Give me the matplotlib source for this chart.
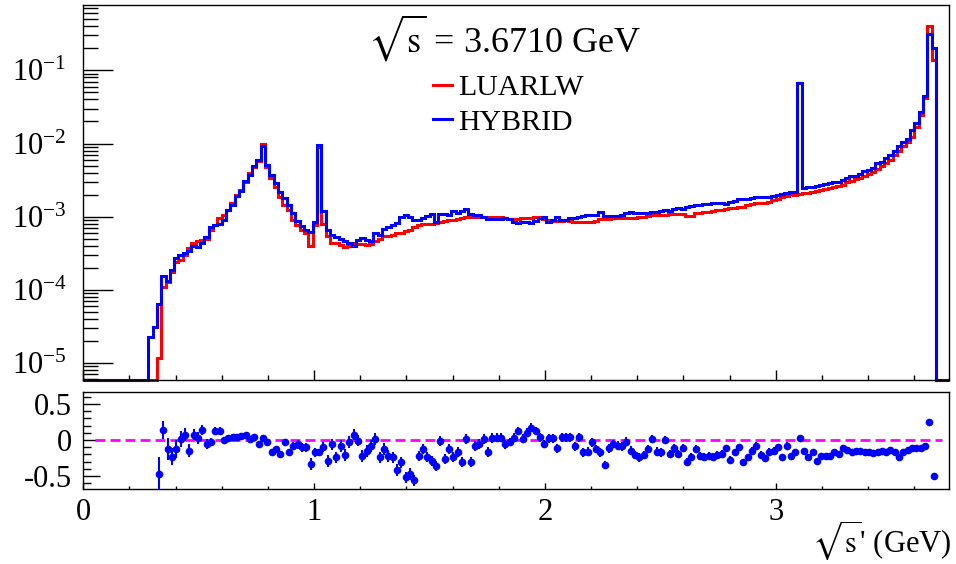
"""
sqrt(s') spectrum at sqrt(s) = 3.6710 GeV: LUARLW vs HYBRID, with a ratio panel underneath.
Values read off the original figure (200 bins, 0 - 3.75 GeV).
"""

import numpy as np
import matplotlib
matplotlib.use("Agg")
import matplotlib.pyplot as plt
import matplotlib.ticker as mticker
from matplotlib.lines import Line2D

plt.rcParams["font.family"] = ["Liberation Serif", "DejaVu Serif"]
plt.rcParams["mathtext.fontset"] = "stix"
plt.rcParams["axes.unicode_minus"] = False

N_BINS = 200
X_MAX = 3.75
Y_LO, Y_HI = 5.87e-6, 0.78
R_LO, R_HI = -0.68, 0.67
REF_LINE_X = (0.05, 3.72)

# HYBRID, bins 15..196 (others empty)
HYBRID_FIRST = 15
HYBRID_VALS = [
    2.3e-5, 3.1e-5, 6.5e-5, 1.55e-4, 1.33e-4, 1.87e-4, 2.75e-4, 3.0e-4, 3.16e-4, 3.4e-4,
    3.98e-4, 3.89e-4, 4.4e-4, 5.2e-4, 7.2e-4, 7.6e-4, 7.9e-4, 9.0e-4, 1.24e-3, 1.45e-3,
    1.9e-3, 2.26e-3, 3.1e-3, 3.7e-3, 4.9e-3, 6.0e-3, 9.3e-3, 5.1e-3, 3.7e-3, 2.85e-3,
    2.2e-3, 1.78e-3, 1.45e-3, 1.12e-3, 8.7e-4, 7.4e-4, 6.6e-4, 6.2e-4, 8.5e-4, 9.55e-3,
    1.18e-3, 6.6e-4, 5.6e-4, 5.2e-4, 4.9e-4, 4.7e-4, 4.4e-4, 4.0e-4, 4.8e-4, 5.1e-4,
    4.8e-4, 4.6e-4, 5.9e-4, 5.6e-4, 6.8e-4, 7.3e-4, 7.7e-4, 8.1e-4, 1.0e-3, 1.05e-3,
    9.8e-4, 9.0e-4, 9.0e-4, 9.5e-4, 1.02e-3, 1.09e-3, 8.5e-4, 1.09e-3, 1.09e-3, 1.05e-3,
    1.21e-3, 1.11e-3, 1.21e-3, 1.26e-3, 1.09e-3, 1.05e-3, 1.05e-3, 9.8e-4, 9.2e-4, 9.2e-4,
    9.2e-4, 9.2e-4, 9.5e-4, 9.2e-4, 8.5e-4, 8.1e-4, 8.5e-4, 8.5e-4, 8.1e-4, 8.8e-4,
    9.5e-4, 9.8e-4, 8.5e-4, 9.0e-4, 9.8e-4, 9.0e-4, 9.0e-4, 9.5e-4, 9.5e-4, 1.0e-3,
    1.02e-3, 1.05e-3, 1.05e-3, 1.05e-3, 1.17e-3, 1.02e-3, 1.02e-3, 1.02e-3, 1.02e-3, 1.05e-3,
    1.11e-3, 1.17e-3, 1.13e-3, 1.13e-3, 1.11e-3, 1.13e-3, 1.17e-3, 1.17e-3, 1.21e-3, 1.23e-3,
    1.21e-3, 1.26e-3, 1.30e-3, 1.26e-3, 1.34e-3, 1.40e-3, 1.45e-3, 1.45e-3, 1.49e-3, 1.49e-3,
    1.52e-3, 1.52e-3, 1.56e-3, 1.49e-3, 1.60e-3, 1.66e-3, 1.73e-3, 1.73e-3, 1.73e-3, 1.78e-3,
    1.84e-3, 1.84e-3, 1.88e-3, 1.88e-3, 1.92e-3, 1.98e-3, 2.04e-3, 2.09e-3, 2.15e-3, 2.20e-3,
    6.8e-2, 2.45e-3, 2.57e-3, 2.57e-3, 2.66e-3, 2.69e-3, 2.82e-3, 2.88e-3, 3.02e-3, 3.02e-3,
    3.16e-3, 3.39e-3, 3.63e-3, 3.63e-3, 3.89e-3, 4.17e-3, 4.37e-3, 4.68e-3, 5.37e-3, 5.62e-3,
    6.31e-3, 6.92e-3, 7.94e-3, 9.33e-3, 1.06e-2, 1.17e-2, 1.51e-2, 1.91e-2, 2.69e-2, 4.42e-2,
    0.31, 0.20,
]

# LUARLW, bins 17..196
LUARLW_FIRST = 17
LUARLW_VALS = [
    1.16e-5, 1.1e-4, 1.3e-4, 1.77e-4, 2.4e-4, 2.6e-4, 3.0e-4, 3.7e-4, 4.4e-4, 4.6e-4,
    4.8e-4, 5.0e-4, 6.6e-4, 7.7e-4, 9.5e-4, 1.06e-3, 1.24e-3, 1.52e-3, 2.0e-3, 2.3e-3,
    3.0e-3, 3.9e-3, 4.8e-3, 5.8e-3, 1.0e-2, 4.8e-3, 3.35e-3, 2.57e-3, 1.88e-3, 1.45e-3,
    1.24e-3, 9.0e-4, 7.7e-4, 6.6e-4, 5.9e-4, 4.0e-4, 7.7e-4, 8.9e-3, 7.9e-4, 5.4e-4,
    4.4e-4, 4.4e-4, 4.1e-4, 3.9e-4, 4.0e-4, 4.4e-4, 4.3e-4, 4.2e-4, 4.1e-4, 4.3e-4,
    4.6e-4, 4.9e-4, 5.4e-4, 5.5e-4, 5.6e-4, 5.9e-4, 6.0e-4, 6.3e-4, 6.5e-4, 7.3e-4,
    7.8e-4, 7.9e-4, 7.9e-4, 8.0e-4, 8.1e-4, 8.5e-4, 8.8e-4, 9.0e-4, 9.0e-4, 9.2e-4,
    9.5e-4, 9.8e-4, 1.0e-3, 1.0e-3, 1.0e-3, 9.8e-4, 9.8e-4, 1.0e-3, 1.0e-3, 9.8e-4,
    9.5e-4, 9.2e-4, 9.2e-4, 9.3e-4, 9.5e-4, 9.5e-4, 9.6e-4, 9.8e-4, 9.8e-4, 9.3e-4,
    9.0e-4, 8.7e-4, 8.8e-4, 8.8e-4, 9.0e-4, 8.8e-4, 8.5e-4, 8.5e-4, 8.5e-4, 8.5e-4,
    8.5e-4, 8.7e-4, 9.2e-4, 9.2e-4, 9.2e-4, 9.5e-4, 9.5e-4, 9.5e-4, 9.5e-4, 9.5e-4,
    9.5e-4, 9.8e-4, 1.0e-3, 1.02e-3, 1.05e-3, 1.05e-3, 1.05e-3, 1.06e-3, 1.09e-3, 1.09e-3,
    1.09e-3, 1.08e-3, 1.02e-3, 1.02e-3, 1.13e-3, 1.13e-3, 1.15e-3, 1.17e-3, 1.21e-3, 1.23e-3,
    1.23e-3, 1.26e-3, 1.30e-3, 1.30e-3, 1.34e-3, 1.37e-3, 1.45e-3, 1.49e-3, 1.52e-3, 1.52e-3,
    1.56e-3, 1.60e-3, 1.69e-3, 1.73e-3, 1.84e-3, 1.92e-3, 2.02e-3, 2.0e-3, 2.05e-3, 2.09e-3,
    2.14e-3, 2.19e-3, 2.24e-3, 2.29e-3, 2.40e-3, 2.45e-3, 2.57e-3, 2.63e-3, 2.75e-3, 2.95e-3,
    3.09e-3, 3.24e-3, 3.39e-3, 3.63e-3, 3.80e-3, 4.07e-3, 4.47e-3, 4.90e-3, 5.37e-3, 6.03e-3,
    6.92e-3, 7.94e-3, 9.12e-3, 1.05e-2, 1.23e-2, 1.66e-2, 2.45e-2, 4.17e-2, 0.40, 0.138,
]

# ratio points, bins 17..196
RATIO_FIRST = 17
RATIO_VALS = [
    -0.47, 0.14, -0.125, -0.23, -0.125, 0.01, 0.07, -0.15, 0.075, 0.03,
    0.14, -0.06, -0.03, 0.125, 0.125, 0.0, 0.03, 0.035, 0.045, 0.05,
    0.07, 0.01, 0.035, -0.06, 0.025, -0.03, -0.17, -0.12, -0.20, -0.03,
    -0.17, -0.08, -0.06, -0.10, -0.10, -0.33, -0.17, -0.17, -0.10, -0.29,
    -0.06, -0.24, -0.08, -0.21, -0.03, 0.075, -0.01, -0.22, -0.15, -0.08,
    0.01, -0.24, -0.125, -0.22, -0.24, -0.42, -0.31, -0.52, -0.47, -0.56,
    -0.22, -0.125, -0.24, -0.29, -0.36, -0.01, -0.26, -0.12, -0.24, -0.17,
    -0.31, 0.01, -0.31, -0.08, -0.06, 0.01, -0.17, 0.03, 0.03, 0.03,
    -0.06, -0.03, 0.03, 0.125, 0.02, 0.10, 0.17, 0.125, 0.036, -0.056,
    0.022, 0.022, -0.116, 0.036, 0.036, 0.036, -0.088, 0.036, -0.171, -0.162,
    -0.033, -0.125, -0.171, -0.348, -0.116, -0.056, -0.079, -0.088, -0.024, -0.148,
    -0.209, -0.241, -0.209, -0.125, 0.013, -0.162, -0.171, 0.0, -0.195, -0.116,
    -0.195, -0.116, -0.31, -0.241, -0.125, -0.218, -0.241, -0.218, -0.241, -0.209,
    -0.195, -0.116, -0.274, -0.171, -0.10, -0.31, -0.241, -0.148, -0.079, -0.209,
    -0.255, -0.162, -0.148, -0.10, -0.241, -0.079, -0.227, -0.171, 0.022, -0.148,
    -0.241, -0.171, -0.287, -0.218, -0.218, -0.218, -0.162, -0.195, -0.116, -0.135,
    -0.171, -0.148, -0.148, -0.162, -0.162, -0.18, -0.171, -0.148, -0.171, -0.135,
    -0.171, -0.241, -0.162, -0.135, -0.116, -0.116, -0.116, -0.079, 0.245, -0.496,
]
RATIO_ERRS = [
    0.23, 0.13, 0.15, 0.12, 0.12, 0.11, 0.09, 0.09, 0.08, 0.08,
    0.07, 0.07, 0.06, 0.05, 0.05, 0.04, 0.03, 0.03, 0.02, 0.02,
    0.02, 0.02, 0.02, 0.02, 0.02, 0.02, 0.03, 0.03, 0.04, 0.04,
    0.05, 0.05, 0.06, 0.06, 0.06, 0.08, 0.06, 0.03, 0.07, 0.08,
    0.08, 0.08, 0.08, 0.08, 0.08, 0.08, 0.08, 0.08, 0.08, 0.08,
    0.08, 0.08, 0.08, 0.08, 0.08, 0.08, 0.08, 0.08, 0.08, 0.08,
    0.07, 0.07, 0.07, 0.07, 0.07, 0.07, 0.07, 0.07, 0.07, 0.07,
    0.07, 0.07, 0.07, 0.07, 0.07, 0.07, 0.07, 0.07, 0.06, 0.06,
    0.06, 0.06, 0.06, 0.06, 0.06, 0.06, 0.06, 0.06, 0.06, 0.06,
    0.06, 0.06, 0.06, 0.06, 0.06, 0.06, 0.06, 0.06, 0.06, 0.06,
    0.06, 0.06, 0.06, 0.06, 0.06, 0.06, 0.06, 0.06, 0.06, 0.06,
    0.06, 0.06, 0.06, 0.06, 0.06, 0.06, 0.06, 0.06, 0.06, 0.06,
    0.055, 0.055, 0.055, 0.055, 0.055, 0.055, 0.055, 0.055, 0.055, 0.055,
    0.05, 0.05, 0.05, 0.05, 0.05, 0.05, 0.05, 0.05, 0.05, 0.05,
    0.05, 0.05, 0.05, 0.05, 0.05, 0.05, 0.05, 0.05, 0.04, 0.04,
    0.04, 0.04, 0.035, 0.035, 0.035, 0.035, 0.03, 0.03, 0.03, 0.03,
    0.03, 0.03, 0.025, 0.025, 0.025, 0.025, 0.025, 0.02, 0.02, 0.02,
    0.02, 0.02, 0.02, 0.02, 0.02, 0.02, 0.02, 0.02, 0.01, 0.01,
]


def full_hist(first, vals):
    h = np.zeros(N_BINS)
    h[first:first + len(vals)] = vals
    return h


edges = np.linspace(0.0, X_MAX, N_BINS + 1)
centers = 0.5 * (edges[:-1] + edges[1:])
hybrid = full_hist(HYBRID_FIRST, HYBRID_VALS)
luarlw = full_hist(LUARLW_FIRST, LUARLW_VALS)
x_ratio = centers[RATIO_FIRST:RATIO_FIRST + len(RATIO_VALS)]

fig = plt.figure(figsize=(9.56, 5.64), dpi=100)
ax1 = fig.add_axes([0.0871, 0.3262, 0.9055, 0.6649])
ax2 = fig.add_axes([0.0871, 0.1330, 0.9055, 0.1725])

# empty bins sit on the lower frame, like ROOT draws them
ax1.stairs(np.where(luarlw > 0, luarlw, Y_LO), edges, baseline=None,
           color="#ff0000", lw=2.2, clip_on=False)
ax1.stairs(np.where(hybrid > 0, hybrid, Y_LO), edges, baseline=None,
           color="#0000ff", lw=2.2, clip_on=False)

ax1.set_yscale("log")
ax1.set_xlim(0, X_MAX)
ax1.set_ylim(Y_LO, Y_HI)
ax1.yaxis.set_major_locator(mticker.LogLocator(base=10, numticks=12))
ax1.yaxis.set_minor_locator(mticker.LogLocator(base=10, subs=np.arange(2, 10) * 1.0, numticks=40))
ax1.yaxis.set_minor_formatter(mticker.NullFormatter())
ax1.xaxis.set_major_locator(mticker.MultipleLocator(1))
ax1.xaxis.set_minor_locator(mticker.MultipleLocator(0.2))
ax1.tick_params(which="both", direction="in", top=False, right=False, labelbottom=False, width=1)
ax1.tick_params(axis="y", which="major", length=21.6, labelsize=22, pad=12)
ax1.tick_params(axis="y", which="minor", length=10.8)
ax1.tick_params(axis="x", which="major", length=7.2)
ax1.tick_params(axis="x", which="minor", length=3.6)

handles = [Line2D([], [], color="#ff0000", lw=2.2), Line2D([], [], color="#0000ff", lw=2.2)]
ax1.legend(handles, ["LUARLW", "HYBRID"], loc="upper left",
           bbox_to_anchor=(0.4526, 0.868), bbox_transform=fig.transFigure,
           frameon=False, fontsize=21.5, handlelength=0.65, handletextpad=0.2,
           labelspacing=0.25, borderpad=0, borderaxespad=0)

fig.text(0.528, 0.908, r"$\sqrt{\mathrm{s}}$ = 3.6710 GeV", ha="center", va="baseline", fontsize=26)

# ratio panel
ax2.plot(REF_LINE_X, [0, 0], color="#ff00ff", lw=2, dashes=(3.6, 1.8), zorder=2)
ax2.errorbar(x_ratio, RATIO_VALS, yerr=RATIO_ERRS, fmt="o", color="#0000ff",
             ms=4.5, elinewidth=1.5, capsize=0, zorder=3)
ax2.set_xlim(0, X_MAX)
ax2.set_ylim(R_LO, R_HI)
ax2.yaxis.set_major_locator(mticker.FixedLocator([-0.5, 0, 0.5]))
ax2.yaxis.set_major_formatter(mticker.FuncFormatter(lambda v, _: f"{v:g}"))
ax2.yaxis.set_minor_locator(mticker.MultipleLocator(0.1))
ax2.xaxis.set_major_locator(mticker.MultipleLocator(1))
ax2.xaxis.set_major_formatter(mticker.FuncFormatter(lambda v, _: f"{v:g}"))
ax2.xaxis.set_minor_locator(mticker.MultipleLocator(0.2))
ax2.tick_params(which="both", direction="in", top=False, right=False, width=1)
ax2.tick_params(axis="y", which="major", length=12.2, labelsize=22, pad=8)
ax2.tick_params(axis="y", which="minor", length=5.8)
ax2.tick_params(axis="x", which="major", length=4.3, labelsize=22, pad=6.5)
ax2.tick_params(axis="x", which="minor", length=2.2)

for ax in (ax1, ax2):
    for sp in ax.spines.values():
        sp.set_linewidth(1.0)

fig.text(0.995, 0.022, r"$\sqrt{\mathrm{s}}$' (GeV)", ha="right", va="baseline", fontsize=22)

fig.savefig("out.png", dpi=100)
